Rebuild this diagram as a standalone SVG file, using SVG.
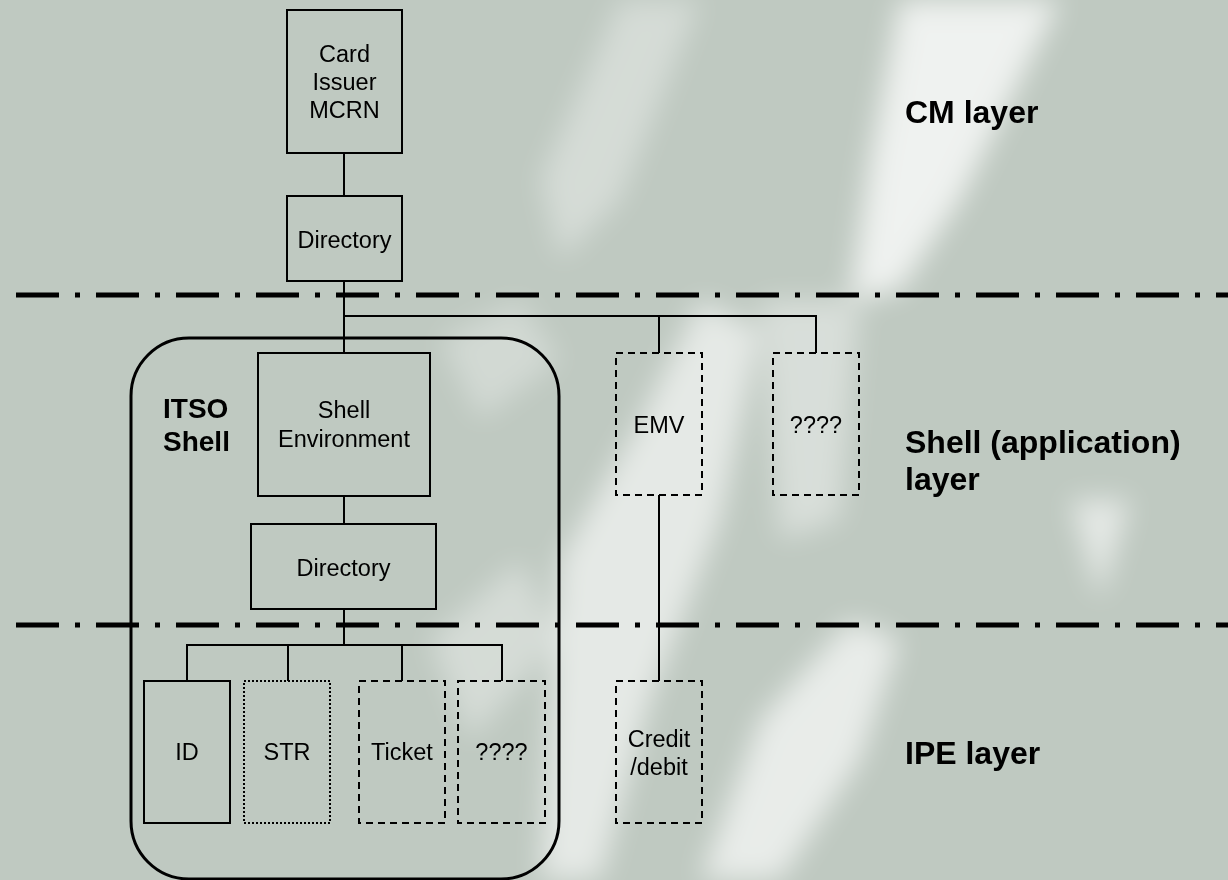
<svg xmlns="http://www.w3.org/2000/svg" width="1228" height="880" viewBox="0 0 1228 880">
<defs>
<style>
.box{fill:none;stroke:#000;stroke-width:2}
.dash{stroke-dasharray:7 5}
.dot{stroke-dasharray:2 2}
.conn{fill:none;stroke:#000;stroke-width:2}
.sep{fill:none;stroke:#000;stroke-width:5;stroke-dasharray:43 16 5 16}
.t{font-family:"Liberation Sans",Arial,sans-serif;font-size:23.5px;fill:#000;text-anchor:middle}
.b{font-family:"Liberation Sans",Arial,sans-serif;font-weight:bold;fill:#000}
</style>
<filter id="blur" x="-20%" y="-20%" width="140%" height="140%"><feGaussianBlur stdDeviation="14"/></filter>
</defs>
<rect width="1228" height="880" fill="#bfc9c1"/>
<g filter="url(#blur)" fill="#ffffff">
<polygon points="900,0 1060,0 960,200 900,290 850,300 870,160" opacity="0.75"/>
<polygon points="560,560 640,420 700,300 760,330 720,520 650,700 600,880 540,880" opacity="0.6"/>
<polygon points="700,880 760,720 850,620 900,640 860,760 780,880" opacity="0.65"/>
<polygon points="1070,500 1130,500 1100,600" opacity="0.6"/>
<polygon points="620,0 700,0 620,200 560,260 540,180" opacity="0.35"/>
<polygon points="430,640 520,560 560,640 470,740" opacity="0.35"/>
<polygon points="440,340 520,300 560,360 480,420" opacity="0.3"/>
<polygon points="760,300 860,300 840,520 780,540" opacity="0.4"/>
</g>
<g id="separators">
<line class="sep" x1="16" y1="295" x2="1228" y2="295"/>
<line class="sep" x1="16" y1="625" x2="1228" y2="625"/>
</g>
<g id="itso-shell">
<rect x="131" y="338" width="428" height="541" rx="58" ry="58" fill="none" stroke="#000" stroke-width="3"/>
<text class="b" font-size="28" x="163" y="418">ITSO</text>
<text class="b" font-size="28" x="163" y="451">Shell</text>
</g>
<g id="connectors">
<line class="conn" x1="344" y1="153" x2="344" y2="196"/>
<line class="conn" x1="344" y1="281" x2="344" y2="353"/>
<polyline class="conn" points="344,316 816,316 816,353"/>
<line class="conn" x1="659" y1="316" x2="659" y2="353"/>
<line class="conn" x1="344" y1="496" x2="344" y2="524"/>
<line class="conn" x1="344" y1="609" x2="344" y2="645"/>
<polyline class="conn" points="187,681 187,645 502,645 502,681"/>
<line class="conn" x1="288" y1="645" x2="288" y2="681"/>
<line class="conn" x1="402" y1="645" x2="402" y2="681"/>
<line class="conn" x1="659" y1="495" x2="659" y2="681"/>
</g>
<g id="card-issuer">
<rect class="box" x="287" y="10" width="115" height="143"/>
<text class="t" x="344.5" y="62">Card</text>
<text class="t" x="344.5" y="90">Issuer</text>
<text class="t" x="344.5" y="118">MCRN</text>
</g>
<g id="directory-cm">
<rect class="box" x="287" y="196" width="115" height="85"/>
<text class="t" x="344.5" y="248">Directory</text>
</g>
<g id="shell-environment">
<rect class="box" x="258" y="353" width="172" height="143"/>
<text class="t" x="344" y="418">Shell</text>
<text class="t" x="344" y="447">Environment</text>
</g>
<g id="directory-shell">
<rect class="box" x="251" y="524" width="185" height="85"/>
<text class="t" x="343.5" y="576">Directory</text>
</g>
<g id="emv">
<rect class="box dash" x="616" y="353" width="86" height="142"/>
<text class="t" x="659" y="433">EMV</text>
</g>
<g id="unknown-shell">
<rect class="box dash" x="773" y="353" width="86" height="142"/>
<text class="t" x="816" y="433">????</text>
</g>
<g id="id">
<rect class="box" x="144" y="681" width="86" height="142"/>
<text class="t" x="187" y="760">ID</text>
</g>
<g id="str">
<rect class="box dot" x="244" y="681" width="86" height="142"/>
<text class="t" x="287" y="760">STR</text>
</g>
<g id="ticket">
<rect class="box dash" x="359" y="681" width="86" height="142"/>
<text class="t" x="402" y="760">Ticket</text>
</g>
<g id="unknown-ipe">
<rect class="box dash" x="458" y="681" width="87" height="142"/>
<text class="t" x="501.5" y="760">????</text>
</g>
<g id="credit-debit">
<rect class="box dash" x="616" y="681" width="86" height="142"/>
<text class="t" x="659" y="747">Credit</text>
<text class="t" x="659" y="775">/debit</text>
</g>
<g id="layer-labels">
<text class="b" font-size="32" x="905" y="123">CM layer</text>
<text class="b" font-size="32" x="905" y="453">Shell (application)</text>
<text class="b" font-size="32" x="905" y="490">layer</text>
<text class="b" font-size="32" x="905" y="764">IPE layer</text>
</g>
</svg>
